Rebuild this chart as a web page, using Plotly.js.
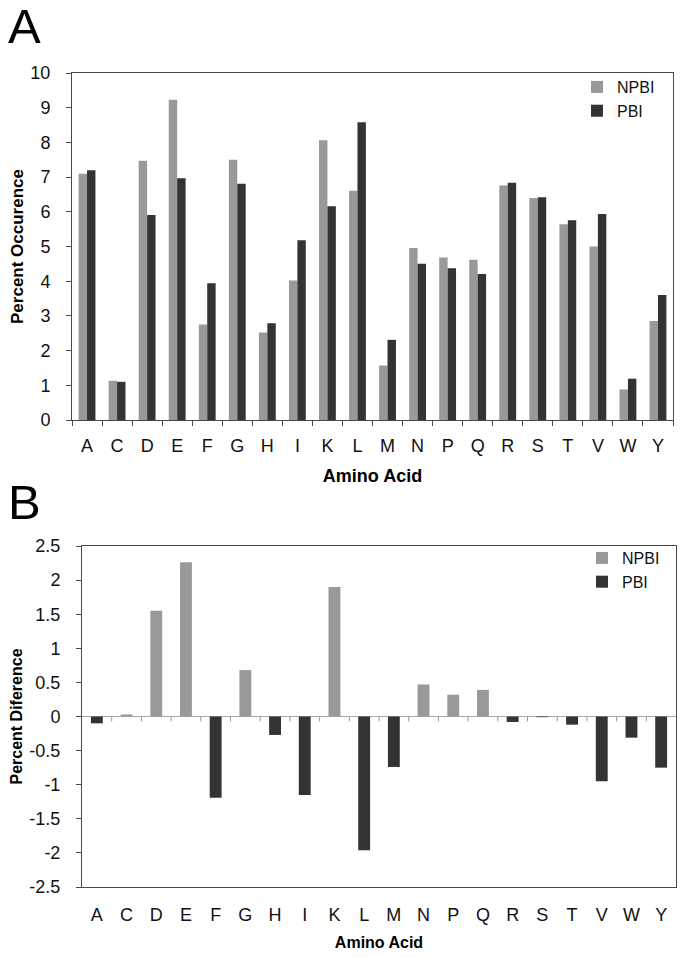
<!DOCTYPE html>
<html><head><meta charset="utf-8">
<script src="https://cdn.plot.ly/plotly-3.0.1.min.js"></script>
<style>html,body{margin:0;padding:0;background:#fff}</style>
</head><body>
<div id="chart" style="width:686px;height:957px"></div>
<script>
const aminoAcids = ["A","C","D","E","F","G","H","I","K","L","M","N","P","Q","R","S","T","V","W","Y"];
const occurNPBI = [7.10,1.13,7.47,9.23,2.75,7.50,2.52,4.02,8.06,6.61,1.57,4.96,4.68,4.62,6.76,6.40,5.64,5.00,0.88,2.85];
const occurPBI  = [7.20,1.10,5.91,6.97,3.94,6.81,2.79,5.18,6.16,8.58,2.31,4.50,4.37,4.21,6.84,6.42,5.76,5.94,1.19,3.60];
const diffNPBI = [null,0.03,1.55,2.26,null,0.68,null,null,1.90,null,null,0.47,0.32,0.39,null,null,null,null,null,null];
const diffPBI  = [-0.10,null,null,null,-1.19,null,-0.27,-1.15,null,-1.96,-0.74,null,null,null,-0.08,-0.01,-0.12,-0.95,-0.31,-0.75];
const diffTickVals = [-2.5,-2,-1.5,-1,-0.5,0,0.5,1,1.5,2,2.5];
const diffTickText = ["-2.5","-2","-1.5","-1","-0.5","0","0.5","1","1.5","2","2.5"];

const W = 686, H = 957;
const cNP = "#999999", cP = "#333333";
const F = "Liberation Sans, Arial, sans-serif";
const px = v => v / W, py = v => 1 - v / H;

const traces = [
  {type:"bar", name:"NPBI", x:aminoAcids, y:occurNPBI, xaxis:"x", yaxis:"y", marker:{color:cNP}, width:0.28, offset:-0.28, legend:"legend"},
  {type:"bar", name:"PBI",  x:aminoAcids, y:occurPBI,  xaxis:"x", yaxis:"y", marker:{color:cP},  width:0.28, offset:0,     legend:"legend"},
  {type:"bar", name:"NPBI", x:aminoAcids, y:diffNPBI, xaxis:"x2", yaxis:"y2", marker:{color:cNP}, width:0.4, offset:-0.2, legend:"legend2"},
  {type:"bar", name:"PBI",  x:aminoAcids, y:diffPBI,  xaxis:"x2", yaxis:"y2", marker:{color:cP},  width:0.4, offset:-0.2, legend:"legend2"}
];

// small tick marks on the zero line of panel B, at the category boundaries
const zeroTicks = aminoAcids.slice(1).map((_, i) => ({
  type:"line", xref:"x2", yref:"y2", x0:i + 0.5, x1:i + 0.5,
  ysizemode:"pixel", yanchor:0, y0:0, y1:-5,
  line:{color:"#999999", width:1}, layer:"above"
}));

const axLine = {showline:true, linecolor:"#4a4a4a", linewidth:1, mirror:true, showgrid:false, zeroline:false};
const tickFont = {family:F, size:18, color:"#111"};

const layout = {
  width:W, height:H, margin:{l:0,r:0,t:0,b:0},
  paper_bgcolor:"#fff", plot_bgcolor:"#fff",
  barmode:"group", bargap:0.44, showlegend:true,
  font:{family:F},
  xaxis:Object.assign({}, axLine, {domain:[px(72), px(673)], anchor:"y", type:"category",
    ticks:"outside", tickson:"boundaries", ticklen:5, tickcolor:"#4a4a4a", tickfont:tickFont, ticklabelstandoff:9,
    title:{text:"Amino Acid", font:{family:F, size:18, color:"#000", weight:"bold"}, standoff:14}}),
  yaxis:Object.assign({}, axLine, {domain:[py(420), py(73)], anchor:"x", range:[0,10], dtick:1,
    ticks:"outside", ticklen:5, tickcolor:"#4a4a4a", tickfont:tickFont, ticklabelstandoff:12,
    title:{text:"Percent Occurence", font:{family:F, size:17, color:"#000", weight:"bold"}, standoff:2}}),
  xaxis2:Object.assign({}, axLine, {domain:[px(82), px(676)], anchor:"y2", type:"category",
    range:[-0.5, aminoAcids.length - 0.5],
    ticks:"outside", ticklen:5, tickcolor:"rgba(0,0,0,0)", tickfont:tickFont, ticklabelstandoff:6,
    title:{text:"Amino Acid", font:{family:F, size:16, color:"#000", weight:"bold"}, standoff:13}}),
  yaxis2:Object.assign({}, axLine, {domain:[py(887), py(546)], anchor:"x2", range:[-2.5,2.5],
    tickmode:"array", tickvals:diffTickVals, ticktext:diffTickText,
    zeroline:true, zerolinecolor:"#aaaaaa", zerolinewidth:1,
    ticks:"outside", ticklen:5, tickcolor:"#4a4a4a", tickfont:tickFont, ticklabelstandoff:12,
    title:{text:"Percent Diference", font:{family:F, size:16, color:"#000", weight:"bold"}, standoff:2}}),
  legend:{x:px(577), y:py(70), xanchor:"left", yanchor:"top", bgcolor:"rgba(0,0,0,0)",
    font:{family:F, size:16, color:"#111"}, itemwidth:30, tracegroupgap:0},
  legend2:{x:px(582), y:py(541), xanchor:"left", yanchor:"top", bgcolor:"rgba(0,0,0,0)",
    font:{family:F, size:16, color:"#111"}, itemwidth:30, tracegroupgap:0},
  shapes:zeroTicks,
  annotations:[
    {text:"A", xref:"paper", yref:"paper", x:px(6), y:py(-3), xanchor:"left", yanchor:"top", showarrow:false,
     font:{family:F, size:49, color:"#000"}},
    {text:"B", xref:"paper", yref:"paper", x:px(6), y:py(473), xanchor:"left", yanchor:"top", showarrow:false,
     font:{family:F, size:49, color:"#000"}}
  ]
};

Plotly.newPlot("chart", traces, layout, {staticPlot:true, displayModeBar:false});
</script>
</body></html>
